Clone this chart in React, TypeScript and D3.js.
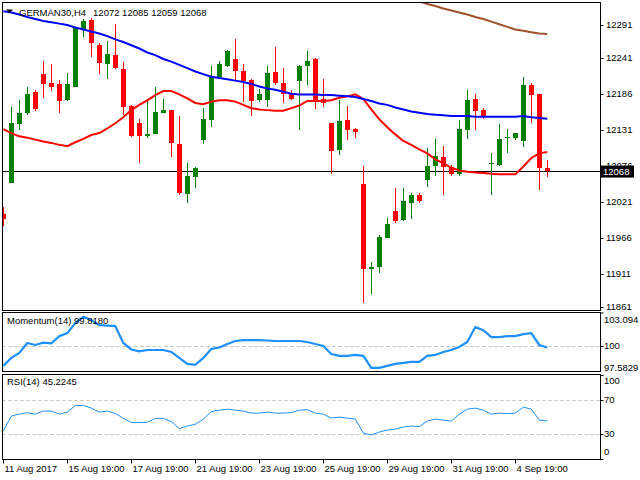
import React from "react";
import * as d3 from "d3";

// ---------- DATA ----------
const symbolTitle = "GERMAN30,H4";
const lastQuote = [12072, 12085, 12059, 12068];

const opens = [12003,12050,12140,12157,12188,12216,12202,12201,12176,12196,12285,12298,12260,12231,12245,12224,12167,12141,12122,12124,12157,12161,12110,12033,12059,12115,12146,12212,12228,12239,12221,12207,12176,12176,12219,12203,12185,12205,12228,12239,12178,12141,12100,12146,12132,12048,11919,11922,11966,12007,11993,12020,12031,12054,12076,12090,12074,12064,12130,12178,12161,12079,12077,12118,12119,12114,12199,12186,12072];
const highs = [12013,12166,12176,12196,12192,12236,12231,12207,12218,12287,12300,12301,12264,12267,12292,12235,12169,12147,12176,12197,12178,12161,12152,12080,12074,12164,12228,12236,12252,12269,12231,12209,12193,12228,12257,12226,12192,12230,12251,12241,12209,12142,12176,12167,12134,12076,11929,11970,11996,12042,12042,12035,12035,12103,12117,12106,12077,12146,12191,12186,12164,12096,12140,12132,12126,12211,12203,12186,12085];
const lows = [11984,12050,12130,12153,12159,12180,12190,12156,12175,12196,12272,12242,12216,12208,12223,12153,12120,12081,12118,12124,12157,12090,12031,12020,12042,12109,12136,12212,12227,12207,12174,12152,12174,12166,12199,12172,12176,12130,12200,12162,12166,12064,12092,12115,12119,11867,11880,11913,11966,11989,11992,11995,12020,12044,12060,12031,12061,12061,12117,12130,12147,12031,12076,12096,12116,12105,12142,12039,12059];
const closes = [11995,12141,12156,12186,12162,12201,12197,12175,12201,12287,12297,12263,12233,12246,12225,12166,12121,12122,12124,12158,12161,12111,12035,12060,12073,12147,12212,12231,12251,12221,12206,12175,12185,12218,12203,12185,12178,12228,12236,12175,12172,12099,12144,12130,12128,11919,11922,11968,11987,11992,12022,12031,12022,12075,12091,12074,12064,12132,12176,12159,12150,12081,12117,12120,12126,12199,12184,12073,12068];

// moving averages (one value per bar)
const maFast = [12132,12126,12121,12119,12116,12113,12111,12108,12106,12112,12117,12123,12126,12133,12141,12150,12161,12169,12176,12184,12190,12190,12185,12179,12172,12170,12174,12176,12176,12174,12169,12164,12162,12161,12160,12160,12164,12168,12175,12175,12175,12176,12180,12182,12185,12178,12162,12147,12135,12124,12114,12108,12101,12095,12086,12080,12073,12069,12067,12066,12065,12064,12063,12063,12063,12075,12088,12095,12097];
const maSlow = [12312,12310,12307,12303,12300,12297,12295,12293,12291,12287,12284,12281,12278,12274,12269,12265,12260,12255,12249,12245,12239,12235,12230,12225,12220,12216,12212,12210,12208,12206,12204,12201,12197,12194,12192,12189,12186,12185,12185,12185,12184,12184,12183,12182,12181,12178,12175,12171,12169,12165,12162,12159,12157,12155,12154,12153,12152,12152,12152,12151,12151,12151,12151,12151,12151,12152,12150,12149,12148];
const maLongStart = 51;
const maLong = [12332,12327,12323,12320,12316,12313,12310,12307,12303,12300,12296,12292,12288,12284,12282,12280,12278,12277];

const momentum = [98.11,98.85,99.32,100.25,100.06,100.27,100.22,100.89,101.17,102.10,102.69,102.38,101.92,101.87,101.82,100.25,99.64,99.46,99.59,99.59,99.59,99.41,98.85,98.30,98.20,98.85,99.69,99.83,100.15,100.43,100.52,100.52,100.52,100.48,100.43,100.43,100.43,100.43,100.34,100.15,99.97,99.22,99.04,99.04,99.13,99.04,97.92,97.92,98.11,98.30,98.39,98.48,98.48,99.04,99.13,99.41,99.59,99.87,100.34,101.73,101.45,100.80,100.80,100.89,100.89,101.08,101.17,100.06,99.818];
const rsi = [33.1,50.8,53.1,54.7,53.1,56.7,56.7,53.1,55.5,63.4,63.4,60.2,55.5,56.7,54.0,48.1,43.3,43.3,43.3,48.1,48.1,44.3,36.0,39.0,41.0,47.2,56.1,57.8,59.0,57.8,56.7,54.3,54.3,55.5,54.3,54.3,54.9,57.8,58.4,54.3,53.1,48.4,49.6,48.4,47.2,30.7,28.3,31.9,34.2,35.4,37.8,39.0,38.4,44.9,47.2,46.0,44.9,53.1,59.0,60.2,57.8,53.1,54.3,53.7,54.3,61.4,59.0,46.0,45.2245];

const priceTicks = [12291, 12241, 12186, 12131, 12076, 12021, 11966, 11911, 11861];
const momTicks = ["103.094", "100", "97.5829"];
const rsiTicks = [100, 70, 30, 0];
const timeTickIdx = [0, 8, 16, 24, 32, 40, 48, 56, 64];
const timeTickLabels = ["11 Aug 2017", "15 Aug 19:00", "17 Aug 19:00", "21 Aug 19:00", "23 Aug 19:00", "25 Aug 19:00", "29 Aug 19:00", "31 Aug 19:00", "4 Sep 19:00"];

// ---------- LAYOUT ----------
const W = 640, H = 480;
const L = 2.5, R = 600.5;
const main = { top: 2.5, bottom: 310.5 };
const momP = { top: 312.5, bottom: 371.5 };
const rsiP = { top: 374.5, bottom: 459.5 };
const FONT = "'Liberation Sans', Arial, sans-serif";
const FS = 9.5;

export default function App() {
  const n = closes.length;
  const x = d3.scaleLinear().domain([0, n - 1]).range([3.3, 547.3]);
  const y = d3.scaleLinear().domain([11856, 12326]).range([310, 2]);
  const yM = d3.scaleLinear().domain([97.5829, 103.094]).range([371.5, 312.5]);
  const yR = d3.scaleLinear().domain([0, 100]).range([459, 374.5]);

  const lineMain = d3.line<number>().x((_, i) => x(i)).y((d) => y(d));
  const lineLong = d3.line<number>().x((_, i) => x(i + maLongStart)).y((d) => y(d));
  const lineMom = d3.line<number>().x((_, i) => x(i)).y((d) => yM(d));
  const lineRsi = d3.line<number>().x((_, i) => x(i)).y((d) => yR(d));

  const last = closes[n - 1];
  const bw = 5;

  return (
    <div style={{ position: "fixed", left: 0, top: 0, width: W, height: H, background: "#fff" }}>
      <svg width={W} height={H} style={{ display: "block" }} fontFamily={FONT} fontSize={FS}>
        <defs>
          <clipPath id="cMain"><rect x={L} y={main.top} width={R - L} height={main.bottom - main.top} /></clipPath>
          <clipPath id="cMom"><rect x={L} y={momP.top} width={R - L} height={momP.bottom - momP.top} /></clipPath>
          <clipPath id="cRsi"><rect x={L} y={rsiP.top} width={R - L} height={rsiP.bottom - rsiP.top} /></clipPath>
        </defs>
        <rect x={0} y={0} width={W} height={H} fill="#fff" />

        {/* main panel */}
        <g clipPath="url(#cMain)">
          <line x1={L} x2={R} y1={y(last)} y2={y(last)} stroke="#000" strokeWidth={1} shapeRendering="crispEdges" />
          {closes.map((c, i) => {
            const o = opens[i];
            const up = c >= o;
            const col = up ? "#008000" : "#ff0000";
            const cx = Math.round(x(i));
            const top = y(Math.max(o, c));
            const bot = y(Math.min(o, c));
            return (
              <g key={i} shapeRendering="crispEdges">
                <line x1={cx + 0.5} x2={cx + 0.5} y1={y(highs[i])} y2={y(lows[i])} stroke={col} strokeWidth={1} />
                <rect x={cx - 2} y={top} width={bw} height={Math.max(1.5, bot - top)} fill={col} />
              </g>
            );
          })}
          <path d={lineMain(maFast) || ""} fill="none" stroke="#ff0000" strokeWidth={2} />
          <path d={lineMain(maSlow) || ""} fill="none" stroke="#0000ff" strokeWidth={2} />
          <path d={lineLong(maLong) || ""} fill="none" stroke="#a0522d" strokeWidth={2} />
        </g>
        <rect x={L} y={main.top} width={R - L} height={main.bottom - main.top} fill="none" stroke="#000" strokeWidth={1} />
        <path d="M6,9.5 L13,9.5 L9.5,13 Z" fill="#000" />
        <text x={19} y={15.5} fill="#000">
          {symbolTitle}
          <tspan dx={7}>{lastQuote.join(" ")}</tspan>
        </text>

        {/* price axis */}
        {priceTicks.map((t) => (
          <g key={t}>
            <line x1={R} x2={R + 3} y1={Math.round(y(t)) + 0.5} y2={Math.round(y(t)) + 0.5} stroke="#000" />
            <text x={606} y={y(t)} dy="0.35em" fill="#000">{t}</text>
          </g>
        ))}
        <rect x={601} y={y(last) - 5.5} width={33} height={12} fill="#000" />
        <text x={603} y={y(last)} dy="0.38em" fill="#fff">{last}</text>

        {/* momentum panel */}
        <line x1={L} x2={R} y1={Math.round(yM(100)) + 0.5} y2={Math.round(yM(100)) + 0.5} stroke="#c0c0c0" strokeDasharray="3,3" />
        <g clipPath="url(#cMom)">
          <path d={lineMom(momentum) || ""} fill="none" stroke="#1e90ff" strokeWidth={2.2} />
        </g>
        <rect x={L} y={momP.top} width={R - L} height={momP.bottom - momP.top} fill="none" stroke="#000" />
        <text x={7} y={321} dy="0.35em" fill="#000">Momentum(14) {momentum[n - 1].toFixed(4)}</text>
        <text x={604} y={320} dy="0.35em" fill="#000">{momTicks[0]}</text>
        <text x={604} y={yM(100)} dy="0.35em" fill="#000">{momTicks[1]}</text>
        <text x={604} y={368} dy="0.35em" fill="#000">{momTicks[2]}</text>
        <line x1={R} x2={R + 3} y1={313} y2={313} stroke="#000" />
        <line x1={R} x2={R + 3} y1={Math.round(yM(100)) + 0.5} y2={Math.round(yM(100)) + 0.5} stroke="#000" />

        {/* RSI panel */}
        {[70, 30].map((lv) => (
          <line key={lv} x1={L} x2={R} y1={Math.round(yR(lv)) + 0.5} y2={Math.round(yR(lv)) + 0.5} stroke="#c0c0c0" strokeDasharray="3,3" />
        ))}
        <g clipPath="url(#cRsi)">
          <path d={lineRsi(rsi) || ""} fill="none" stroke="#1e90ff" strokeWidth={1} />
        </g>
        <rect x={L} y={rsiP.top} width={R - L} height={rsiP.bottom - rsiP.top} fill="none" stroke="#000" />
        <text x={7} y={382} dy="0.35em" fill="#000">RSI(14) {rsi[n - 1].toFixed(4)}</text>
        {rsiTicks.map((t) => {
          const yy = t === 100 ? 381 : t === 0 ? 452 : yR(t);
          return (
            <g key={t}>
              <line x1={R} x2={R + 3} y1={Math.round(yR(t)) + 0.5} y2={Math.round(yR(t)) + 0.5} stroke="#000" />
              <text x={604} y={yy} dy="0.35em" fill="#000">{t}</text>
            </g>
          );
        })}

        {/* time axis */}
        {timeTickIdx.map((ti, k) => {
          const tx = Math.round(x(ti)) + 0.5;
          return (
            <g key={ti}>
              <line x1={tx} x2={tx} y1={rsiP.bottom} y2={rsiP.bottom + 4} stroke="#000" />
              <text x={tx + 1} y={472} fill="#000">{timeTickLabels[k]}</text>
            </g>
          );
        })}
      </svg>
    </div>
  );
}
